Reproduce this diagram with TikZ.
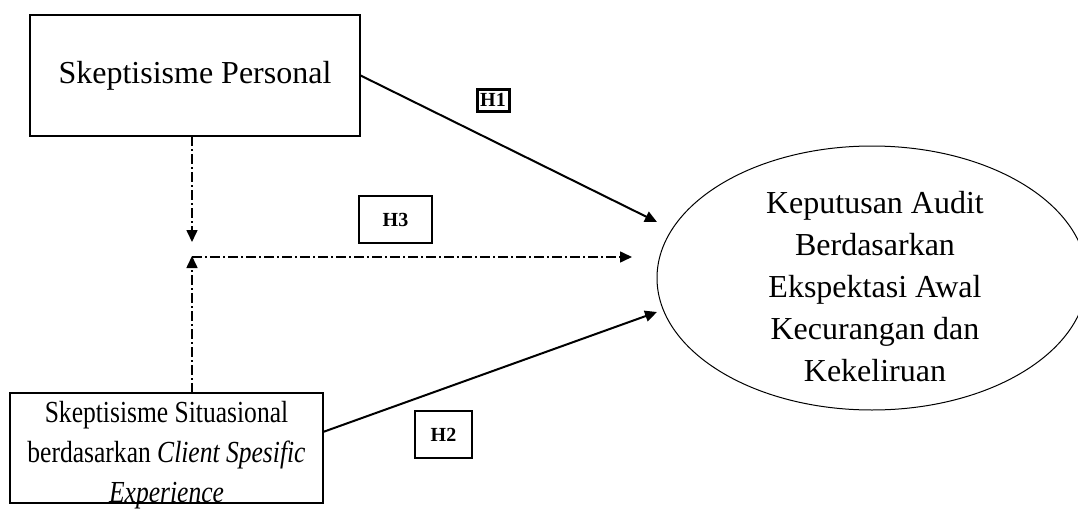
\documentclass[tikz,border=0pt]{standalone}
\usepackage{fontspec}
\setmainfont{Liberation Serif}
\newfontfamily\narrowserif[FakeStretch=0.835]{Liberation Serif}
\usetikzlibrary{arrows.meta,shapes.geometric}
\tikzset{
  boxnode/.style={draw,line width=0.6pt,rectangle,inner sep=0pt},
  mainfont/.style={font=\fontsize{16}{20.5}\selectfont},
  hlabel/.style={draw,line width=0.6pt,rectangle,inner sep=0pt,font=\fontsize{10}{12}\selectfont\bfseries},
  solidarrow/.style={line width=1pt,-{Triangle[length=6pt,width=5.5pt]}},
  dasharrow/.style={line width=0.8pt,dash pattern=on 5pt off 1.6pt on 0.8pt off 1.6pt,-{Triangle[length=6pt,width=5.5pt]}}
}
\begin{document}
\begin{tikzpicture}[x=1pt,y=-1pt]
\clip (0,0) rectangle (539,254.5);
\useasboundingbox (0,0) rectangle (539,254.5);
% boxes
\node[boxnode,mainfont,minimum width=165pt,minimum height=60.5pt] (sp) at (97.5,37.75) {Skeptisisme Personal};
\node[boxnode,minimum width=156.5pt,minimum height=55pt] (ss) at (83.25,224) {};
\node[align=center,anchor=north,inner sep=0pt,font=\narrowserif\fontsize{15.3}{20}\selectfont] (sst) at (83.25,200.5)
  {Skeptisisme Situasional\\berdasarkan \textit{Client Spesific}\\\textit{Experience}};
\node[draw,line width=0.5pt,ellipse,inner sep=0pt,minimum width=215pt,minimum height=132pt] (ka) at (436,139) {};
\node[align=center,inner sep=0pt,font=\fontsize{16}{21}\selectfont] (kat) at (437.5,143.5)
  {Keputusan Audit\\Berdasarkan\\Ekspektasi Awal\\Kecurangan dan\\Kekeliruan};
% hypothesis labels
\node[hlabel,line width=1.5pt,minimum width=16pt,minimum height=11pt] (h1) at (246.5,50) {H1};
\node[hlabel,minimum width=36.5pt,minimum height=23.5pt] (h3) at (197.75,109.75) {H3};
\node[hlabel,minimum width=28.5pt,minimum height=23.5pt] (h2) at (221.75,217.25) {H2};
% connector coordinates
\coordinate (t1) at (328.5,111);
\coordinate (s2a) at (161.5,216);
\coordinate (t2) at (328.5,156);
\coordinate (vd) at (96,121);
\coordinate (vu) at (96,128);
\coordinate (hs) at (96,128.5);
\coordinate (ht) at (316,128.5);
\coordinate (spb) at (96,68);
\coordinate (sst0) at (96,196.5);
% connectors
\draw[solidarrow] (sp.east) -- (t1);
\draw[solidarrow] (s2a) -- (t2);
\draw[dasharrow] (spb) -- (vd);
\draw[dasharrow] (sst0) -- (vu);
\draw[dasharrow] (hs) -- (ht);
\end{tikzpicture}
\end{document}
